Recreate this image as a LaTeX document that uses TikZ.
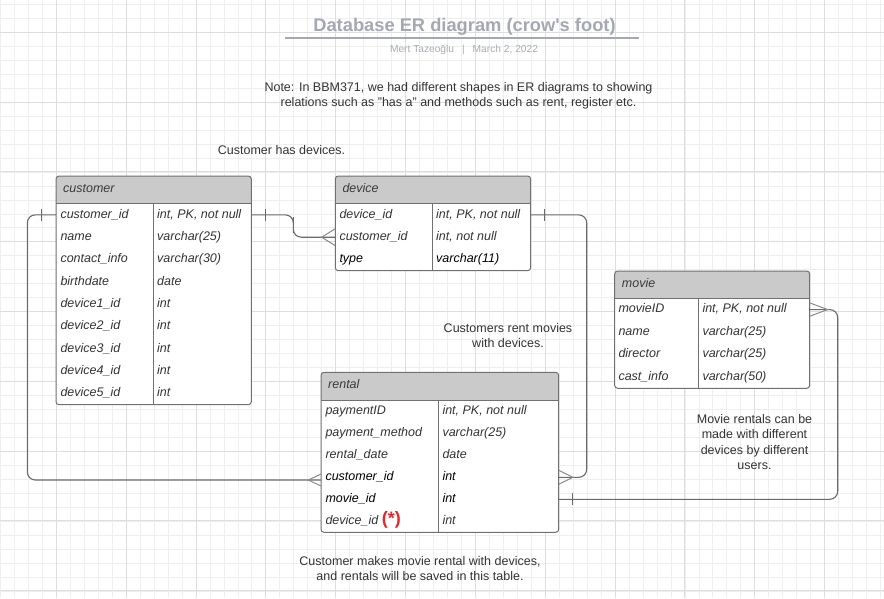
\documentclass[tikz,border=0pt]{standalone}
\usepackage{fontspec}
\setmainfont{Liberation Sans}
\usetikzlibrary{fit,calc}
\definecolor{gridminor}{HTML}{EEEEEE}
\definecolor{gridmajor}{HTML}{DDDDDD}
\definecolor{hdrgray}{HTML}{CACACA}
\definecolor{bordergray}{HTML}{707070}
\definecolor{linegray}{HTML}{6A6A6A}
\definecolor{footgray}{HTML}{8A8A8A}
\definecolor{txt}{HTML}{333333}
\definecolor{hdrtxt}{HTML}{3A3A3A}
\definecolor{titlecol}{HTML}{A3A8B3}
\definecolor{subcol}{HTML}{A9ADB5}
\definecolor{starred}{HTML}{E5262B}

\newcommand{\ertab}[8]{%
  \fill[white,rounded corners=3pt] (#2,#3) rectangle (#4,#5);
  \begin{scope}
    \clip[rounded corners=3pt] (#2,#3) rectangle (#4,#5);
    \fill[hdrgray] (#2,#3) rectangle (#4,#6);
  \end{scope}
  \draw[tblline] (#2,#6) -- (#4,#6) (#7,#6) -- (#7,#5);
  \node[tblbox, fit={(#2,#3) (#4,#5)}] (#1) {};
  \node[hdrtext] (#1-title) at ({#2+7},{(#3+#6)/2+2.6}) {#8};
}
\newcommand{\errows}[6]{%
  \foreach \a/\b [count=\i] in {#6} {
    \node[cell] (#1-\i) at (#2, {#4+#5*(\i-0.5)+3.4}) {\a};
    \node[cell] (#1-\i-t) at (#3, {#4+#5*(\i-0.5)+3.4}) {\b};
  }}
\newcommand{\crowfoot}[3]{%
  \draw[foot] ($(#1)+(0,-#3)$) -- ($(#1)+(#2,0)$) -- ($(#1)+(0,#3)$);}
\newcommand{\onebar}[2]{%
  \draw[conn] ($(#1)+(#2,-6)$) -- ($(#1)+(#2,6)$);}

\begin{document}
\begin{tikzpicture}[x=1pt,y=-1pt,
  cell/.style={anchor=base west, inner sep=0pt, text height=9.2pt, text depth=2.4pt,
    font=\fontsize{12.5}{15}\selectfont\itshape, text=txt},
  hdrtext/.style={anchor=base west, inner sep=0pt,
    font=\fontsize{12.5}{15}\selectfont\itshape, text=hdrtxt},
  tblbox/.style={draw=bordergray, line width=1pt, rounded corners=3pt, inner sep=0pt, outer sep=0pt},
  tblline/.style={draw=bordergray, line width=1pt},
  conn/.style={draw=linegray, line width=1.1pt},
  foot/.style={draw=footgray, line width=1pt},
  note/.style={align=center, inner sep=0pt, font=\fontsize{12.5}{15.4}\selectfont, text=txt},
]
\useasboundingbox (0,0) rectangle (884,598);
\fill[white] (0,0) rectangle (884,598);
% grid
\foreach \i in {0,...,63}{\draw[gridminor,line width=0.8pt] ({0.42+13.97*\i},0) -- ++(0,598);}
\foreach \k in {0,...,42}{\draw[gridminor,line width=0.8pt] (0,{4.36+13.97*\k}) -- ++(884,0);}
\foreach \j in {0,...,11}{\draw[gridmajor,line width=1pt] ({56.3+69.85*\j},0) -- ++(0,598);}
\foreach \j in {0,...,8}{\draw[gridmajor,line width=1pt] (0,{32.3+69.8*\j}) -- ++(884,0);}

% title
\node[anchor=base, inner sep=0pt, font=\fontsize{18.3}{20}\selectfont\bfseries, text=titlecol]
  (title) at (464.5,31) {Database ER diagram (crow\textquotesingle s foot)};
\draw[titlecol, line width=1.6pt] (285,37.7) -- (639.3,37.7);
\node[anchor=base, inner sep=0pt, font=\fontsize{10.2}{12}\selectfont, text=subcol]
  (subtitle) at (464,52) {Mert Tazeoğlu\hspace{8pt}|\hspace{8pt}March 2, 2022};

% notes
\node[note] (note1) at (458.5,95.5) {Note: In BBM371, we had different shapes in ER diagrams to showing\\relations such as "has a" and methods such as rent, register etc.};
\node[note] (note2) at (281.5,150) {Customer has devices.};
\node[note] (note3) at (508,335.5) {Customers rent movies\\with devices.};
\node[note] (note4) at (754.5,442) {Movie rentals can be\\made with different\\devices by different\\users.};
\node[note] (note5) at (420,568.5) {Customer makes movie rental with devices,\\and rentals will be saved in this table.};

% tables
\ertab{customer}{56}{176}{251.3}{404.7}{203.7}{153.7}{customer}
\errows{customer}{60.3}{157}{203.7}{22.33}{{customer\_id}/{int, PK, not null},name/{varchar(25)},{contact\_info}/{varchar(30)},birthdate/date,{device1\_id}/int,{device2\_id}/int,{device3\_id}/int,{device4\_id}/int,{device5\_id}/int}

\ertab{device}{335.3}{176}{530.7}{270.7}{203.7}{432.7}{device}
\errows{device}{339.3}{436}{203.7}{22.33}{{device\_id}/{int, PK, not null},{customer\_id}/{int, not null},{\textcolor{black}{type}}/{\textcolor{black}{varchar(11)}}}

\ertab{movie}{614.7}{271}{809.7}{388.3}{298.3}{698.7}{movie}
\errows{movie}{618.3}{702.3}{298.3}{22.5}{movieID/{int, PK, not null},name/{varchar(25)},director/{varchar(25)},{cast\_info}/{varchar(50)}}

\ertab{rental}{321}{372.3}{558.7}{532.3}{400.3}{438.3}{rental}
\errows{rental}{325.3}{442.3}{400.3}{22}{paymentID/{int, PK, not null},{payment\_method}/{varchar(25)},{rental\_date}/date,{\textcolor{black}{customer\_id}}/{\textcolor{black}{int}},{\textcolor{black}{movie\_id}}/{\textcolor{black}{int}},{device\_id\ \textcolor{starred}{\fontsize{18}{18}\selectfont\bfseries\upshape(*)}}/int}

% attachment points
\coordinate (p1) at (customer.east |- customer-1);
\coordinate (p2) at (device.west |- device-2);
\coordinate (p3) at (device.east |- device-1);
\coordinate (p4) at (rental.east |- rental-4);
\coordinate (p5) at (customer.west |- customer-1);
\coordinate (p6) at ($(rental.west |- rental-4)+(0,2.7)$);
\coordinate (p7) at (movie.east |- movie-1);
\coordinate (p8) at (rental.east |- rental-5);

% connectors
\draw[conn, rounded corners=8pt] (p1) -| (293.3,225) |- (p2);
\onebar{p1}{14.4}
\crowfoot{p2}{-13.6}{8.5}

\draw[conn, rounded corners=8pt] (p3) -| (586.7,400) |- (p4);
\onebar{p3}{13.6}
\crowfoot{p4}{14.3}{7}

\draw[conn, rounded corners=8pt] (p5) -| (27.3,300) |- (p6);
\onebar{p5}{-14.7}
\crowfoot{p6}{-12.7}{6}

\draw[conn, rounded corners=8pt] (p7) -| (837.7,400) |- (p8);
\crowfoot{p7}{18}{6.7}
\onebar{p8}{13.8}
\end{tikzpicture}
\end{document}
